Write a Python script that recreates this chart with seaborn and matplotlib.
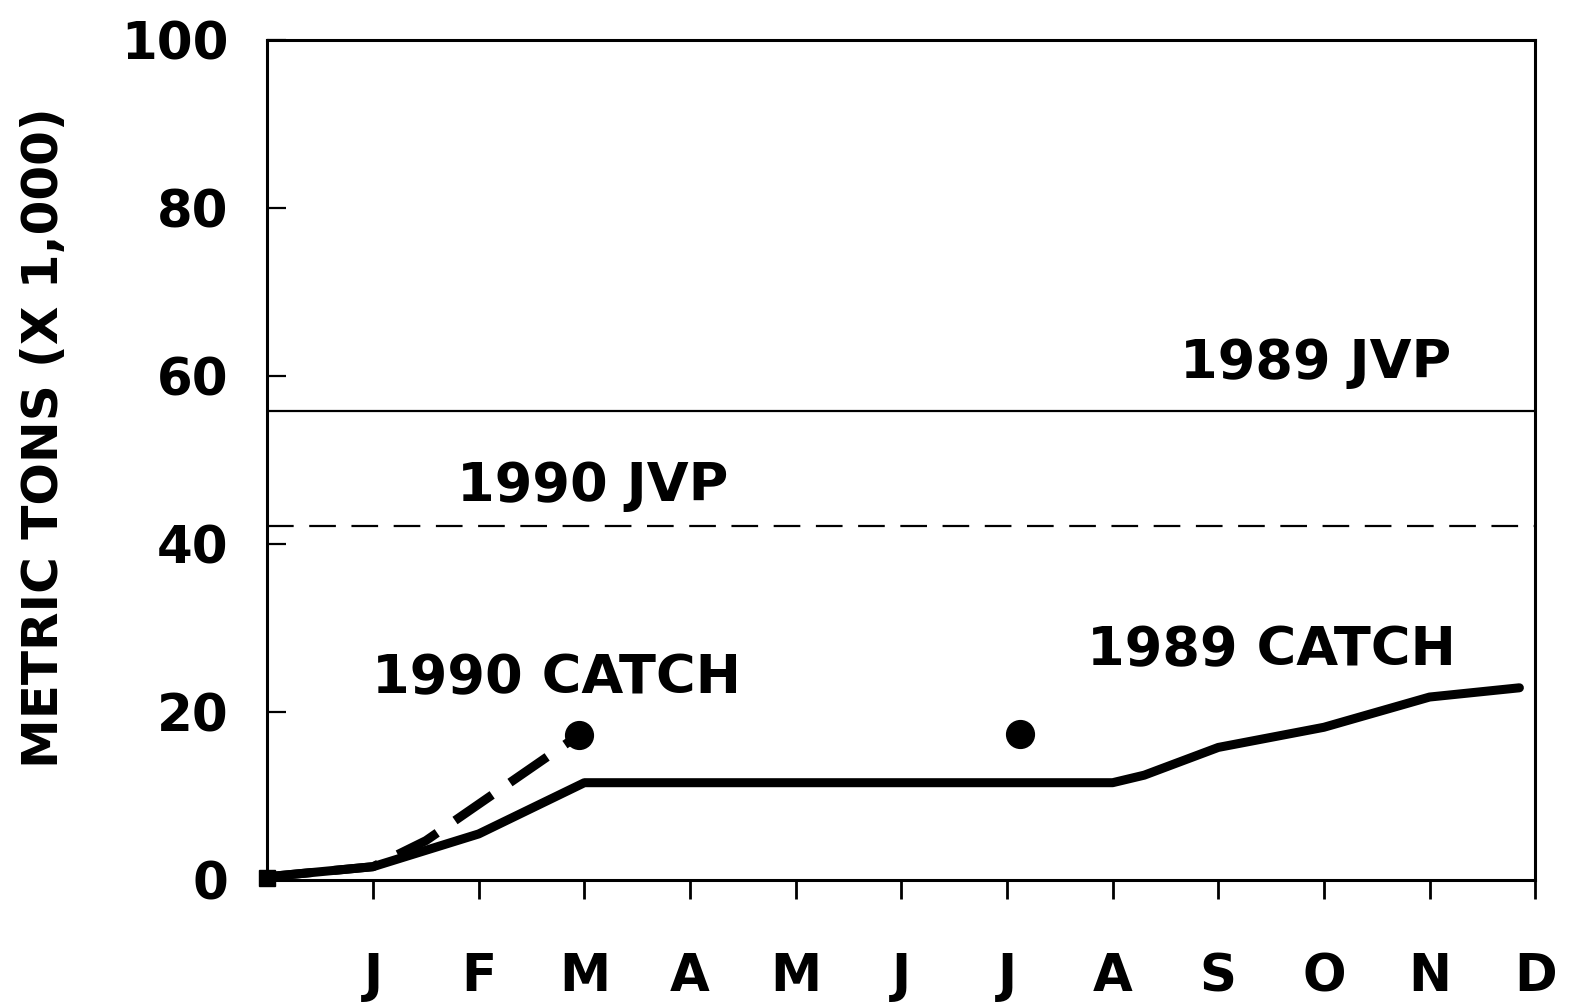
import matplotlib
matplotlib.use("Agg")
import matplotlib.pyplot as plt
import seaborn as sns
import pandas as pd

# ------------------------------
# Data
# ------------------------------
months = ["J", "F", "M", "A", "M", "J", "J", "A", "S", "O", "N", "D"]
month_ticks = [1, 2, 3, 4, 5, 6, 7, 8, 9, 10, 11, 12]

catch_1989_x = [0, 1, 2, 3, 8, 8.3, 9, 10, 11, 11.85]
catch_1989_y = [0.4, 1.6, 5.5, 11.6, 11.6, 12.5, 15.8, 18.2, 21.8, 22.9]

catch_1990_x = [0, 1, 1.5, 2.95]
catch_1990_y = [0.4, 1.6, 4.7, 17.3]

dot_x = [2.95, 7.12]
dot_y = [17.3, 17.4]

jvp_1989 = 55.8
jvp_1990 = 42.2

yticks = [0, 20, 40, 60, 80, 100]

# ------------------------------
# Style
# ------------------------------
sns.set_style("white")
plt.rcParams["font.family"] = ["DejaVu Sans"]
plt.rcParams["font.weight"] = "bold"

fig = plt.figure(figsize=(15.73, 10.07), dpi=100)
ax = fig.add_axes([0.170, 0.126, 0.806, 0.834])

df89 = pd.DataFrame({"month": catch_1989_x, "tons": catch_1989_y})
df90 = pd.DataFrame({"month": catch_1990_x, "tons": catch_1990_y})

# JVP reference lines
ax.axhline(jvp_1989, color="black", lw=1.6)
ax.axhline(jvp_1990, color="black", lw=1.6, dashes=(12, 7))

# catch lines
sns.lineplot(data=df89, x="month", y="tons", ax=ax, color="black", lw=6.5,
             estimator=None, solid_capstyle="round", solid_joinstyle="round")
sns.lineplot(data=df90, x="month", y="tons", ax=ax, color="black", lw=6.5,
             estimator=None, dashes=False)
ax.lines[-1].set_dashes((5.0, 2.4))

# dots and origin square
ax.plot(dot_x, dot_y, "o", color="black", ms=20, clip_on=False)
ax.plot([0], [0.2], "s", color="black", ms=11, clip_on=False)

# labels on the chart
tkw = dict(fontsize=39, fontweight="bold", color="black")
ax.text(8.64, 59.8, "1989 JVP", ha="left", va="baseline", **tkw)
ax.text(1.79, 45.2, "1990 JVP", ha="left", va="baseline", **tkw)
ax.text(0.99, 22.3, "1990 CATCH", ha="left", va="baseline", **tkw)
ax.text(7.76, 25.6, "1989 CATCH", ha="left", va="baseline", **tkw)

# ------------------------------
# Axes
# ------------------------------
ax.set_xlim(0, 12)
ax.set_ylim(0, 100)
ax.set_xticks(month_ticks)
ax.set_xticklabels(months, fontsize=37, fontweight="bold", color="black")
ax.set_yticks(yticks)
ax.set_yticklabels([str(v) for v in yticks], fontsize=37, fontweight="bold", color="black")
ax.tick_params(axis="x", bottom=True, direction="out", length=14, width=2,
               pad=38, color="black")
ax.tick_params(axis="y", left=True, direction="in", length=14, width=1.6,
               pad=28, color="black")
ax.set_xlabel("")
ax.set_ylabel("METRIC TONS (X 1,000)", fontsize=36, fontweight="bold", color="black")
ax.yaxis.set_label_coords(-0.157, 0.527)

for s in ax.spines.values():
    s.set_visible(True)
    s.set_color("black")
    s.set_linewidth(2.2)

fig.savefig("out.png", dpi=100, facecolor="white")
